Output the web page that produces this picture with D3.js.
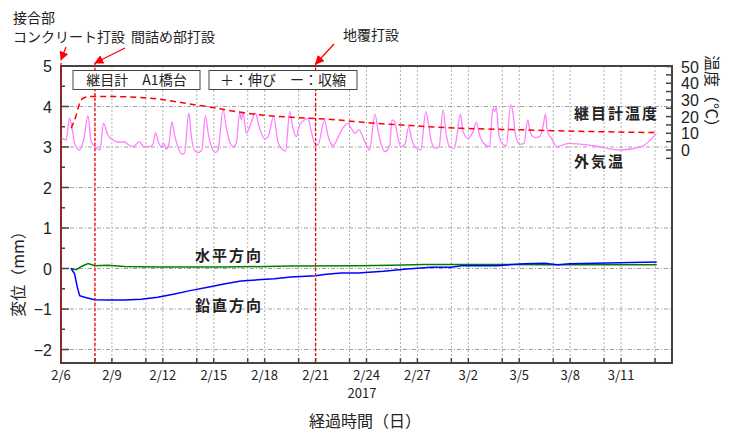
<!DOCTYPE html>
<html>
<head>
<meta charset="utf-8">
<script src="https://cdn.jsdelivr.net/npm/d3@7"></script>
<style>
  body { margin: 0; background: #fff; }
  text { font-family: "Noto Sans CJK JP", sans-serif; }
</style>
</head>
<body>
<div id="chart"></div>
<script>
// days counted from 2017/2/6 00:00
const xTickLabels = ["2/6", "2/9", "2/12", "2/15", "2/18", "2/21", "2/24", "2/27", "3/2", "3/5", "3/8", "3/11"];
const eventDays = [0, 2, 15];   // 接合部コンクリート打設, 間詰め部打設, 地覆打設

// 外気温 [day, ℃]
const airTemp = [
  [0.02,7.4],[0.3,6],[0.5,19],[0.65,13],[0.8,4],[1.1,0],[1.35,7],[1.59,20.5],[1.78,5],[2.08,1.2],
  [2.3,0],[2.5,16],[2.76,9],[3.06,6],[3.35,4.8],[3.75,4.8],[3.94,3.4],[4.24,2],[4.43,3.4],[4.63,5],
  [4.82,2.4],[5.08,1.8],[5.4,3],[5.57,10.4],[5.7,6],[5.9,2],[6.06,4],[6.2,0.6],[6.35,3],[6.53,17],
  [6.69,9],[6.88,2],[7.12,-2.4],[7.27,-2],[7.53,22],[7.67,9],[7.86,0],[8.06,-1.6],[8.3,0],[8.51,20.5],
  [8.69,9],[8.94,0],[9.1,-1.5],[9.25,0],[9.55,24],[9.75,13],[9.94,5],[10.14,2],[10.33,4],[10.53,23],
  [10.63,18],[10.72,23],[10.92,10],[11.12,14],[11.45,22],[11.7,13],[12,6.6],[12.2,8],[12.53,20],[12.78,5],
  [12.98,1],[13.24,-0.6],[13.47,23],[13.67,13],[13.86,8],[14.06,15],[14.35,18],[14.55,19],[14.75,11],[14.94,4],
  [15.14,3],[15.53,18],[15.72,9],[16.02,2.6],[16.3,7],[16.6,13],[16.9,16],[17.1,13],[17.3,10],[17.55,12],
  [17.9,5],[18.18,0],[18.5,21.4],[18.69,11],[18.88,3],[19.1,-1],[19.37,3],[19.5,18],[19.66,17],[19.82,9],
  [20.02,2],[20.25,3],[20.49,14],[20.65,7],[20.94,1],[21.2,0],[21.49,23],[21.63,17],[21.82,5],[22.08,1],
  [22.28,2],[22.51,24],[22.7,9],[22.9,2],[23.16,1],[23.29,6],[23.53,21.4],[23.69,11],[23.98,7],[24.28,11],
  [24.47,16.5],[24.66,9],[24.96,3.4],[25.25,2],[25.45,25],[25.55,23],[25.65,25.4],[25.8,9],[26.04,3.4],[26.24,2.6],
  [26.49,27],[26.6,24],[26.78,9],[27.02,3.4],[27.28,4],[27.5,18],[27.6,13],[27.72,9],[27.92,7.4],[28.22,8],
  [28.4,14],[28.55,21.4],[28.66,11],[28.9,7],[29.2,2],[29.9,4],[31.45,2.4],[33,0],[34.2,2],[35.08,10]
];

// 継目計温度 [day, ℃]
const jointTemp = [
  [0.6,13],[0.9,21],[1.1,28],[1.3,31],[1.69,32],[2.76,32],[4.7,31.5],[6.1,30],[7.67,27.4],[9.04,25.3],
  [9.45,24.5],[11.8,21],[13.57,19.6],[15.5,18.6],[18.3,16.2],[20.6,14.6],[23.6,13],[27.5,12],[28.9,11.6],[35.05,10.4]
];

// 水平方向 [day, mm]
const horizDisp = [
  [0.6,0],[0.9,-0.03],[1.2,0.05],[1.6,0.12],[2,0.07],[2.75,0.08],[3.75,0.05],[5.7,0.04],[9.6,0.035],
  [13.5,0.06],[17.5,0.07],[19.5,0.08],[21.4,0.1],[25.7,0.1],[28.6,0.09],[35.1,0.09]
];

// 鉛直方向 [day, mm]
const vertDisp = [
  [0.6,0],[0.8,-0.13],[0.96,-0.46],[1.1,-0.67],[1.39,-0.71],[1.98,-0.77],[2.76,-0.78],[3.75,-0.78],[4.72,-0.76],
  [5.7,-0.71],[6.69,-0.63],[7.67,-0.54],[8.65,-0.46],[9.6,-0.38],[10.6,-0.31],[11.6,-0.28],[12.57,-0.25],
  [13.55,-0.21],[15,-0.18],[15.5,-0.15],[16.5,-0.11],[17.5,-0.11],[19,-0.07],[20.4,-0.01],[21.8,0.03],
  [23,0.03],[23.57,0.07],[25.7,0.07],[27.3,0.12],[28.5,0.13],[29.25,0.09],[30,0.12],[35.1,0.16]
];

const width = 729, height = 432;
const plot = { left: 61, right: 672, top: 66, bottom: 363 };

const t0 = new Date(2017, 1, 6);
const toDate = d => new Date(t0.getTime() + d * 864e5);

const svg = d3.select("#chart").append("svg")
    .attr("width", width)
    .attr("height", height);

const xScale = d3.scaleTime()
    .domain([toDate(0), toDate(36)])
    .range([plot.left, plot.right]);

const yScale = d3.scaleLinear()
    .domain([-2.333, 5])
    .range([plot.bottom, plot.top]);

const tScale = d3.scaleLinear()
    .domain([0, 50])
    .range([150, 66.5]);

// grid
const gridDays = d3.range(1, 13).flatMap(k => [3 * k - 1, 3 * k]).filter(d => d < 36);
svg.append("g").selectAll("line")
    .data(gridDays)
    .enter().append("line")
    .attr("x1", d => xScale(toDate(d))).attr("x2", d => xScale(toDate(d)))
    .attr("y1", plot.top).attr("y2", plot.bottom)
    .attr("stroke", "#b0b0b0")
    .attr("stroke-dasharray", "2,2");

svg.append("g").selectAll("line")
    .data(d3.range(-2, 5))
    .enter().append("line")
    .attr("x1", plot.left).attr("x2", plot.right)
    .attr("y1", d => yScale(d)).attr("y2", d => yScale(d))
    .attr("stroke", "#a0a0a0")
    .attr("stroke-dasharray", "4,2,1,2");

// frame
svg.append("rect")
    .attr("x", plot.left).attr("y", plot.top)
    .attr("width", plot.right - plot.left).attr("height", plot.bottom - plot.top)
    .attr("fill", "none")
    .attr("stroke", "#444")
    .attr("stroke-width", 2);

// left axis ticks (inward)
svg.append("g").selectAll("line")
    .data(d3.range(-2, 5.01, 0.5))
    .enter().append("line")
    .attr("x1", plot.left).attr("x2", d => plot.left + (Number.isInteger(d) ? 8 : 4))
    .attr("y1", d => yScale(d)).attr("y2", d => yScale(d))
    .attr("stroke", "#444").attr("stroke-width", 1.5);

svg.append("g").selectAll("text")
    .data(d3.range(-2, 6))
    .enter().append("text")
    .attr("x", plot.left - 9)
    .attr("y", d => yScale(d) + 6)
    .attr("text-anchor", "end")
    .style("font-family", "'Liberation Sans', Arial, sans-serif")
    .style("font-size", "16px")
    .attr("fill", "#222")
    .text(d3.format("d"));

// right axis ticks (temperature)
svg.append("g").selectAll("line")
    .data(d3.range(-5, 51, 5))
    .enter().append("line")
    .attr("x1", plot.right).attr("x2", plot.right - 6)
    .attr("y1", d => tScale(d)).attr("y2", d => tScale(d))
    .attr("stroke", "#444").attr("stroke-width", 1.5);

svg.append("g").selectAll("text")
    .data(d3.range(0, 51, 10))
    .enter().append("text")
    .attr("x", plot.right + 9)
    .attr("y", d => tScale(d) + 6)
    .style("font-family", "'Liberation Sans', Arial, sans-serif")
    .style("font-size", "16px")
    .attr("fill", "#222")
    .text(d => d);

// bottom ticks
svg.append("g").selectAll("line")
    .data(gridDays)
    .enter().append("line")
    .attr("x1", d => xScale(toDate(d))).attr("x2", d => xScale(toDate(d)))
    .attr("y1", plot.bottom).attr("y2", plot.bottom - 5)
    .attr("stroke", "#444").attr("stroke-width", 1.5);

svg.append("g").selectAll("text")
    .data(xTickLabels)
    .enter().append("text")
    .attr("x", d => xScale(d3.timeParse("%Y/%m/%d")("2017/" + d)))
    .attr("y", plot.bottom + 17)
    .attr("text-anchor", "middle")
    .style("font-size", "13px")
    .attr("fill", "#222")
    .text(d => d);

svg.append("text")
    .attr("x", 362).attr("y", 398)
    .attr("text-anchor", "middle")
    .style("font-size", "13px")
    .attr("fill", "#222")
    .text("2017");

svg.append("text")
    .attr("x", 365).attr("y", 427)
    .attr("text-anchor", "middle")
    .style("font-size", "16px")
    .attr("fill", "#222")
    .text("経過時間（日）");

svg.append("text")
    .attr("transform", "translate(24,270) rotate(-90)")
    .attr("text-anchor", "middle")
    .style("font-size", "16px")
    .attr("fill", "#222")
    .text("変位（mm）");

svg.append("text")
    .attr("transform", "translate(706,95) rotate(90)")
    .attr("text-anchor", "middle")
    .style("font-size", "16px")
    .attr("fill", "#222")
    .text("温度（℃）");

// series
const line = scale => d3.line()
    .x(d => xScale(toDate(d[0])))
    .y(d => scale(d[1]));

svg.append("path")
    .datum(airTemp)
    .attr("d", line(tScale).curve(d3.curveMonotoneX))
    .attr("fill", "none")
    .attr("stroke", "#ff80ff")
    .attr("stroke-width", 1.3);

svg.append("path")
    .datum(jointTemp)
    .attr("d", line(tScale).curve(d3.curveMonotoneX))
    .attr("fill", "none")
    .attr("stroke", "#ff0000")
    .attr("stroke-width", 1.5)
    .attr("stroke-dasharray", "6,4");

svg.append("path")
    .datum(horizDisp)
    .attr("d", line(yScale))
    .attr("fill", "none")
    .attr("stroke", "#008000")
    .attr("stroke-width", 1.5);

svg.append("path")
    .datum(vertDisp)
    .attr("d", line(yScale))
    .attr("fill", "none")
    .attr("stroke", "#0000ff")
    .attr("stroke-width", 1.5);

// event lines
svg.append("g").selectAll("line")
    .data(eventDays)
    .enter().append("line")
    .attr("x1", d => xScale(toDate(d))).attr("x2", d => xScale(toDate(d)))
    .attr("y1", plot.top - 3).attr("y2", plot.bottom)
    .attr("stroke", "#ff0000")
    .attr("stroke-width", 1.3)
    .attr("stroke-dasharray", "3,2");

// legend boxes
const legendBoxes = [
    { x: 73, w: 127, label: "継目計　A1橋台" },
    { x: 209, w: 148, label: "＋：伸び　ー：収縮" }
];
legendBoxes.forEach(b => {
    svg.append("rect")
        .attr("x", b.x).attr("y", 70.5)
        .attr("width", b.w).attr("height", 19)
        .attr("fill", "#fff")
        .attr("stroke", "#444").attr("stroke-width", 1);
    svg.append("text")
        .attr("x", b.x + b.w / 2).attr("y", 85)
        .attr("text-anchor", "middle")
        .style("font-size", "14px")
        .attr("fill", "#222")
        .text(b.label);
});

// series labels
const seriesLabels = [
    { x: 574, y: 119, label: "継目計温度" },
    { x: 574, y: 167, label: "外気温" },
    { x: 195, y: 261, label: "水平方向" },
    { x: 195, y: 311, label: "鉛直方向" }
];
svg.append("g").selectAll("text")
    .data(seriesLabels)
    .enter().append("text")
    .attr("x", d => d.x).attr("y", d => d.y)
    .style("font-size", "15px")
    .style("font-weight", "bold")
    .style("letter-spacing", "2px")
    .attr("fill", "#222")
    .text(d => d.label);

// annotations
const notes = [
    { x: 13, y: 23, label: "接合部" },
    { x: 13, y: 42, label: "コンクリート打設" },
    { x: 131, y: 42, label: "間詰め部打設" },
    { x: 343, y: 40, label: "地覆打設" }
];
svg.append("g").selectAll("text")
    .data(notes)
    .enter().append("text")
    .attr("x", d => d.x).attr("y", d => d.y)
    .style("font-size", "14px")
    .attr("fill", "#222")
    .text(d => d.label);

svg.append("defs").append("marker")
    .attr("id", "arrow")
    .attr("viewBox", "0 0 10 10")
    .attr("refX", 9).attr("refY", 5)
    .attr("markerWidth", 7).attr("markerHeight", 7)
    .attr("orient", "auto")
  .append("path")
    .attr("d", "M0,0 L10,5 L0,10 z")
    .attr("fill", "#ff0000");

const arrows = [
    { from: [66, 47], day: 0, y: 60 },
    { from: [125, 48], day: 2, y: 63 },
    { from: [334, 44], day: 15, y: 64 }
];
svg.append("g").selectAll("line")
    .data(arrows)
    .enter().append("line")
    .attr("x1", d => d.from[0]).attr("y1", d => d.from[1])
    .attr("x2", d => xScale(toDate(d.day))).attr("y2", d => d.y)
    .attr("stroke", "#ff0000")
    .attr("stroke-width", 1.3)
    .attr("marker-end", "url(#arrow)");
</script>
</body>
</html>
